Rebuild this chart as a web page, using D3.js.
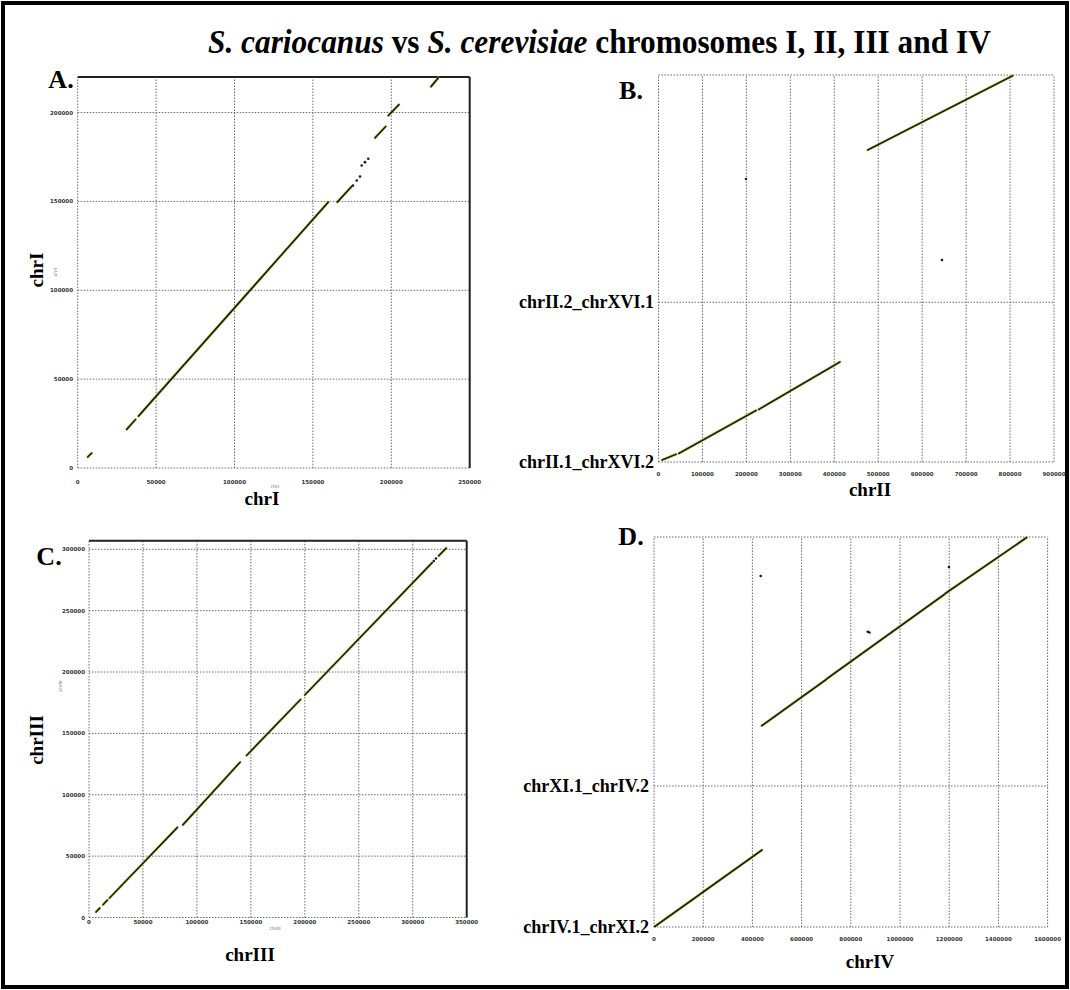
<!DOCTYPE html>
<html><head><meta charset="utf-8">
<script src="https://cdn.jsdelivr.net/npm/d3@7"></script>
<style>body{margin:0;background:#fff}svg{display:block}</style>
</head><body>
<script>
// ---------- data (bp) ----------
// aligned blocks: [refStart, queryStart, refEnd, queryEnd]
const chrI_ticksX = [0, 50000, 100000, 150000, 200000, 250000];
const chrI_ticksY = [0, 50000, 100000, 150000, 200000];
const chrI_blocks = [
  [6400, 6200, 8900, 8400],
  [31250, 21740, 36860, 27300],
  [38780, 29210, 159820, 149610],
  [165560, 149610, 174750, 158430],
  [189610, 185790, 196430, 192140],
  [198090, 198310, 204910, 204500],
  [225320, 214610, 229980, 219500]
];
const chrI_dots = [[175580, 158990], [177940, 161800], [180040, 164050], [181120, 170230], [183230, 172080], [185330, 173990]];

const chrII_ticksX = [0, 100000, 200000, 300000, 400000, 500000, 600000, 700000, 800000, 900000];
const chrII_contigNames = ["chrII.1_chrXVI.2", "chrII.2_chrXVI.1"];
const chrII_contigLengths = [520000, 740000];
const chrII_blocks = [
  [8000, 6500, 40000, 25000],
  [46000, 28000, 222000, 168000],
  [228000, 171000, 412800, 325600],
  [476000, 1015900, 806000, 1257800]
];
const chrII_dots = [[199100, 921500], [645100, 657700]];

const chrIII_ticksX = [0, 50000, 100000, 150000, 200000, 250000, 300000, 350000];
const chrIII_ticksY = [0, 50000, 100000, 150000, 200000, 250000, 300000];
const chrIII_blocks = [
  [6500, 4500, 10000, 7700],
  [13000, 10400, 17000, 14100],
  [19000, 15900, 82000, 73500],
  [87000, 75500, 140000, 126500],
  [146000, 132000, 196000, 177600],
  [200000, 181300, 318000, 289100],
  [324000, 294600, 331000, 301000]
];
const chrIII_dots = [[319500, 290500], [321500, 292500]];

const chrIV_ticksX = [0, 200000, 400000, 600000, 800000, 1000000, 1200000, 1400000, 1600000];
const chrIV_contigNames = ["chrIV.1_chrXI.2", "chrXI.1_chrIV.2"];
const chrIV_contigLengths = [564000, 996000];
const chrIV_blocks = [
  [3000, 2000, 180000, 126000],
  [184000, 129000, 439000, 308000],
  [437800, 805200, 700000, 990000],
  [704000, 994000, 1180000, 1330000],
  [1184000, 1334000, 1515000, 1558000]
];
const chrIV_dots = [[433700, 1404000], [1199000, 1440000], [869000, 1181000], [876000, 1178000]];

// ---------- layout ----------
const W = 1070, H = 990;
const svg = d3.select("body").append("svg").attr("width", W).attr("height", H);
svg.append("rect").attr("x", 3).attr("y", 3).attr("width", W - 6).attr("height", H - 6)
  .attr("fill", "#fff").attr("stroke", "#000").attr("stroke-width", 4);

const serif = "'Liberation Serif', 'Times New Roman', serif";
const tickFont = "'DejaVu Sans', sans-serif";

// title: condensed bold serif, squeezed horizontally to its span
const title = svg.append("text")
  .style("font-family", serif).style("font-weight", "bold").style("font-size", "34px");
title.append("tspan").style("font-style", "italic").text("S. cariocanus");
title.append("tspan").text(" vs ");
title.append("tspan").style("font-style", "italic").text("S. cerevisiae");
title.append("tspan").text(" chromosomes I, II, III and IV");
const titleW = title.node().getComputedTextLength();
title.attr("transform", `translate(208,53) scale(${783 / titleW},1)`);

function drawBlocks(g, x, y, blocks, dots) {
  const seg = d => ({x1: x(d[0]), y1: y(d[1]), x2: x(d[2]), y2: y(d[3])});
  g.selectAll(".halo").data(blocks).join("line").attr("class", "halo")
    .each(function (d) { const s = seg(d); d3.select(this).attr("x1", s.x1).attr("y1", s.y1).attr("x2", s.x2).attr("y2", s.y2); })
    .attr("stroke", "#c4c838").attr("stroke-width", 3).attr("stroke-opacity", 0.6).attr("stroke-linecap", "round");
  g.selectAll(".blk").data(blocks).join("line").attr("class", "blk")
    .each(function (d) { const s = seg(d); d3.select(this).attr("x1", s.x1).attr("y1", s.y1).attr("x2", s.x2).attr("y2", s.y2); })
    .attr("stroke", "#1e220a").attr("stroke-width", 1.7).attr("stroke-linecap", "round");
  g.selectAll(".dot").data(dots).join("circle").attr("class", "dot")
    .attr("cx", d => x(d[0])).attr("cy", d => y(d[1])).attr("r", 1.3).attr("fill", "#1a1a1a");
}

function grid(g, x, y, xt, yt) {
  const [x0, x1] = x.range(), [y0, y1] = y.range();
  g.selectAll(".vg").data(xt).join("line").attr("class", "vg")
    .attr("x1", d => x(d)).attr("x2", d => x(d)).attr("y1", y0).attr("y2", y1);
  g.selectAll(".hg").data(yt).join("line").attr("class", "hg")
    .attr("y1", d => y(d)).attr("y2", d => y(d)).attr("x1", x0).attr("x2", x1);
  g.selectAll("line").attr("stroke", "#6a6a6a").attr("stroke-width", 1).attr("stroke-dasharray", "1.5,1.5");
}

function tickLabelsX(g, x, ticks, yPos) {
  g.selectAll(".xt").data(ticks).join("text").attr("class", "xt")
    .attr("x", d => x(d)).attr("y", yPos).attr("text-anchor", "middle")
    .attr("font-family", tickFont).attr("font-weight", "bold").attr("font-size", 5.5).attr("fill", "#333")
    .text(d => d);
}
function tickLabelsY(g, y, ticks, xPos) {
  g.selectAll(".yt").data(ticks).join("text").attr("class", "yt")
    .attr("x", xPos).attr("y", d => y(d) + 2).attr("text-anchor", "end")
    .attr("font-family", tickFont).attr("font-weight", "bold").attr("font-size", 5.5).attr("fill", "#333")
    .text(d => d);
}

function bigLabel(txt, x, y, size, rotate) {
  const t = svg.append("text").style("font-family", serif).style("font-weight", "bold")
    .style("font-size", size + "px").attr("text-anchor", "middle").text(txt);
  if (rotate) t.attr("transform", `translate(${x},${y}) rotate(-90)`);
  else t.attr("x", x).attr("y", y);
  return t;
}
function tinyLabel(txt, x, y, rotate) {
  const t = svg.append("text").attr("font-family", tickFont).attr("font-size", 4.5).attr("fill", "#666")
    .attr("text-anchor", "middle").text(txt);
  if (rotate) t.attr("transform", `translate(${x},${y}) rotate(-90)`);
  else t.attr("x", x).attr("y", y);
}

// ---- panel A: chrI ----
{
  const x = d3.scaleLinear().domain([0, 250000]).range([77.7, 469.7]);
  const y = d3.scaleLinear().domain([0, 220000]).range([468, 77]);
  const g = svg.append("g");
  grid(g.append("g"), x, y, chrI_ticksX, chrI_ticksY);
  g.append("line").attr("x1", x.range()[0]).attr("x2", x.range()[1]).attr("y1", y.range()[1]).attr("y2", y.range()[1])
    .attr("stroke", "#222").attr("stroke-width", 2);
  g.append("line").attr("x1", x.range()[1]).attr("x2", x.range()[1]).attr("y1", y.range()[0]).attr("y2", y.range()[1])
    .attr("stroke", "#222").attr("stroke-width", 2);
  tickLabelsX(g.append("g"), x, chrI_ticksX, 484);
  tickLabelsY(g.append("g"), y, chrI_ticksY, 73);
  drawBlocks(g.append("g"), x, y, chrI_blocks, chrI_dots);
  tinyLabel("chrI", 57, 272, true);
  tinyLabel("chrI", 275, 488, false);
  bigLabel("A.", 61, 88, 26);
  bigLabel("chrI", 262, 505, 19);
  bigLabel("chrI", 43, 270, 19, true);
}

// ---- panel B: chrII ----
{
  const total = d3.sum(chrII_contigLengths);
  const starts = d3.cumsum([0, ...chrII_contigLengths.slice(0, -1)]);
  const x = d3.scaleLinear().domain([0, 900000]).range([658.5, 1054]);
  const y = d3.scaleLinear().domain([0, total]).range([462, 75]);
  const g = svg.append("g");
  grid(g.append("g"), x, y, chrII_ticksX, [...starts, total]);
  tickLabelsX(g.append("g"), x, chrII_ticksX, 476);
  g.selectAll(".cn").data(chrII_contigNames).join("text").attr("class", "cn")
    .attr("x", 654).attr("y", (d, i) => y(starts[i]) + 6).attr("text-anchor", "end")
    .style("font-family", serif).style("font-weight", "bold").style("font-size", "18px").text(d => d);
  drawBlocks(g.append("g"), x, y, chrII_blocks, chrII_dots);
  bigLabel("B.", 631, 99, 26);
  bigLabel("chrII", 870, 496, 19);
}

// ---- panel C: chrIII ----
{
  const x = d3.scaleLinear().domain([0, 350000]).range([89, 466.7]);
  const y = d3.scaleLinear().domain([0, 307000]).range([917.5, 540.7]);
  const g = svg.append("g");
  grid(g.append("g"), x, y, chrIII_ticksX, chrIII_ticksY);
  g.append("line").attr("x1", x.range()[0]).attr("x2", x.range()[1]).attr("y1", y.range()[1]).attr("y2", y.range()[1])
    .attr("stroke", "#222").attr("stroke-width", 2);
  g.append("line").attr("x1", x.range()[1]).attr("x2", x.range()[1]).attr("y1", y.range()[0]).attr("y2", y.range()[1])
    .attr("stroke", "#222").attr("stroke-width", 2);
  tickLabelsX(g.append("g"), x, chrIII_ticksX, 924);
  tickLabelsY(g.append("g"), y, chrIII_ticksY, 85);
  drawBlocks(g.append("g"), x, y, chrIII_blocks, chrIII_dots);
  tinyLabel("chrIII", 62, 686, true);
  tinyLabel("chrIII", 275, 930, false);
  bigLabel("C.", 49, 565, 26);
  bigLabel("chrIII", 250, 961, 19);
  bigLabel("chrIII", 43, 740, 19, true);
}

// ---- panel D: chrIV ----
{
  const total = d3.sum(chrIV_contigLengths);
  const starts = d3.cumsum([0, ...chrIV_contigLengths.slice(0, -1)]);
  const x = d3.scaleLinear().domain([0, 1600000]).range([654, 1047.6]);
  const y = d3.scaleLinear().domain([0, total]).range([927, 537]);
  const g = svg.append("g");
  grid(g.append("g"), x, y, chrIV_ticksX, [...starts, total]);
  tickLabelsX(g.append("g"), x, chrIV_ticksX, 941);
  g.selectAll(".cn").data(chrIV_contigNames).join("text").attr("class", "cn")
    .attr("x", 649).attr("y", (d, i) => y(starts[i]) + 6).attr("text-anchor", "end")
    .style("font-family", serif).style("font-weight", "bold").style("font-size", "18px").text(d => d);
  drawBlocks(g.append("g"), x, y, chrIV_blocks, chrIV_dots);
  bigLabel("D.", 631, 545, 26);
  bigLabel("chrIV", 870, 968, 19);
}
</script>
</body></html>
